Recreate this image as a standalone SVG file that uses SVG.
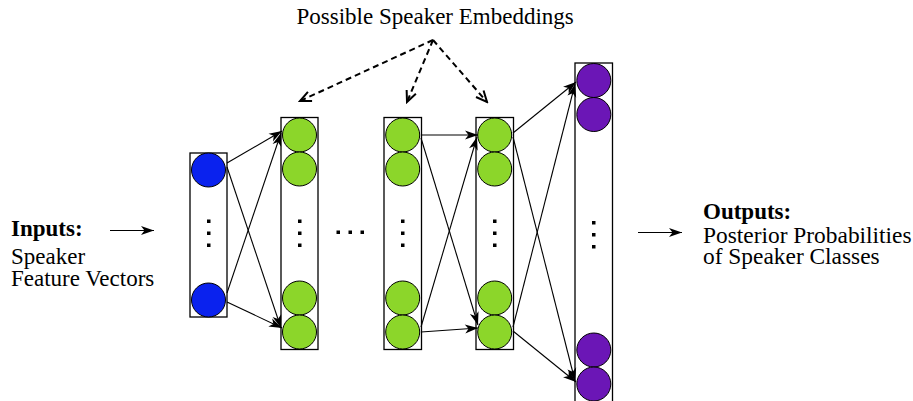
<svg xmlns="http://www.w3.org/2000/svg" width="913" height="401" viewBox="0 0 913 401">
<style>
.t{font-family:"Liberation Serif","Times New Roman",serif;font-size:23px;fill:#000}
.b{font-weight:bold}
.col{fill:#fff;stroke:#000;stroke-width:1.3}
.bl{fill:#0a22ee;stroke:#000;stroke-width:1}
.gr{fill:#8cd62a;stroke:#000;stroke-width:1}
.pu{fill:#6b16b6;stroke:#000;stroke-width:1}
.dot{fill:#000}
.a{stroke:#000;stroke-width:1.1;fill:none;marker-end:url(#ah)}
.d{stroke:#000;stroke-width:2;fill:none;stroke-dasharray:6 4;marker-end:url(#oh)}
</style>
<defs>
<marker id="ah" markerUnits="userSpaceOnUse" markerWidth="16" markerHeight="12" viewBox="-14 -6 16 12" refX="0" refY="0" orient="auto">
<path d="M0,0 L-13,-4.5 L-9.5,0 L-13,4.5 Z" fill="#000"/>
</marker>
<marker id="oh" markerUnits="userSpaceOnUse" markerWidth="16" markerHeight="14" viewBox="-14 -7 16 14" refX="0" refY="0" orient="auto">
<path d="M-11,-5 L0,0 L-11,5" fill="none" stroke="#000" stroke-width="2"/>
</marker>
</defs>
<text class="t" x="296.5" y="24">Possible Speaker Embeddings</text>
<g id="inputs">
<text class="t b" x="11" y="236">Inputs:</text>
<text class="t" x="11" y="264">Speaker</text>
<text class="t" x="11" y="286">Feature Vectors</text>
</g>
<g id="outputs">
<text class="t b" x="703" y="219">Outputs:</text>
<text class="t" x="703" y="243" style="font-size:23.4px">Posterior Probabilities</text>
<text class="t" x="703" y="264" style="font-size:23.4px">of Speaker Classes</text>
</g>
<g id="layer-input">
<rect class="col" x="190" y="153" width="37" height="164"/>
<circle class="bl" cx="208.5" cy="170" r="17"/>
<circle class="bl" cx="208.5" cy="300" r="17"/>
<rect class="dot" x="207" y="219.5" width="3.5" height="3.5"/>
<rect class="dot" x="207" y="231.5" width="3.5" height="3.5"/>
<rect class="dot" x="207" y="243.5" width="3.5" height="3.5"/>
</g>
<g id="layer-hidden-1">
<rect class="col" x="281" y="117.5" width="37" height="232"/>
<circle class="gr" cx="299.5" cy="135" r="17"/>
<circle class="gr" cx="299.5" cy="169" r="17"/>
<circle class="gr" cx="299.5" cy="298" r="17"/>
<circle class="gr" cx="299.5" cy="332" r="17"/>
<rect class="dot" x="298" y="219.5" width="3.5" height="3.5"/>
<rect class="dot" x="298" y="231.5" width="3.5" height="3.5"/>
<rect class="dot" x="298" y="243.5" width="3.5" height="3.5"/>
</g>
<g id="ellipsis">
<rect class="dot" x="336.5" y="230.5" width="3.5" height="3.5"/>
<rect class="dot" x="348.5" y="230.5" width="3.5" height="3.5"/>
<rect class="dot" x="360.5" y="230.5" width="3.5" height="3.5"/>
</g>
<g id="layer-hidden-2">
<rect class="col" x="384" y="117.5" width="37.5" height="232"/>
<circle class="gr" cx="402.7" cy="135" r="17"/>
<circle class="gr" cx="402.7" cy="169" r="17"/>
<circle class="gr" cx="402.7" cy="298" r="17"/>
<circle class="gr" cx="402.7" cy="332" r="17"/>
<rect class="dot" x="401" y="219.5" width="3.5" height="3.5"/>
<rect class="dot" x="401" y="231.5" width="3.5" height="3.5"/>
<rect class="dot" x="401" y="243.5" width="3.5" height="3.5"/>
</g>
<g id="layer-hidden-3">
<rect class="col" x="476" y="117.5" width="37.5" height="232"/>
<circle class="gr" cx="494.7" cy="135" r="17"/>
<circle class="gr" cx="494.7" cy="169" r="17"/>
<circle class="gr" cx="494.7" cy="298" r="17"/>
<circle class="gr" cx="494.7" cy="332" r="17"/>
<rect class="dot" x="493" y="219.5" width="3.5" height="3.5"/>
<rect class="dot" x="493" y="231.5" width="3.5" height="3.5"/>
<rect class="dot" x="493" y="243.5" width="3.5" height="3.5"/>
</g>
<g id="layer-output">
<rect class="col" x="575" y="63" width="37.5" height="342"/>
<circle class="pu" cx="593.8" cy="80.5" r="17"/>
<circle class="pu" cx="593.8" cy="114.5" r="17"/>
<circle class="pu" cx="593.8" cy="350" r="17"/>
<circle class="pu" cx="593.8" cy="384" r="17"/>
<rect class="dot" x="592" y="221" width="3.5" height="3.5"/>
<rect class="dot" x="592" y="233" width="3.5" height="3.5"/>
<rect class="dot" x="592" y="245" width="3.5" height="3.5"/>
</g>
<g id="connectors">
<line class="a" x1="110" y1="230.5" x2="154" y2="230.5"/>
<line class="a" x1="638" y1="232.5" x2="682" y2="232.5"/>
<line class="a" x1="227" y1="163" x2="282" y2="131"/>
<line class="a" x1="227" y1="167" x2="281" y2="328"/>
<line class="a" x1="227" y1="293" x2="281" y2="133"/>
<line class="a" x1="227" y1="302" x2="282" y2="328"/>
<line class="a" x1="421" y1="135" x2="478" y2="135"/>
<line class="a" x1="421" y1="138" x2="478" y2="325"/>
<line class="a" x1="421" y1="327" x2="477" y2="137"/>
<line class="a" x1="421" y1="332" x2="478" y2="328"/>
<line class="a" x1="513" y1="133" x2="576" y2="82"/>
<line class="a" x1="513" y1="137" x2="575" y2="381"/>
<line class="a" x1="513" y1="327" x2="575" y2="84"/>
<line class="a" x1="513" y1="331" x2="576" y2="382"/>
<line class="d" x1="433" y1="40" x2="300" y2="101"/>
<line class="d" x1="433" y1="40" x2="407" y2="102"/>
<line class="d" x1="433" y1="40" x2="487" y2="102"/>
</g>
</svg>
